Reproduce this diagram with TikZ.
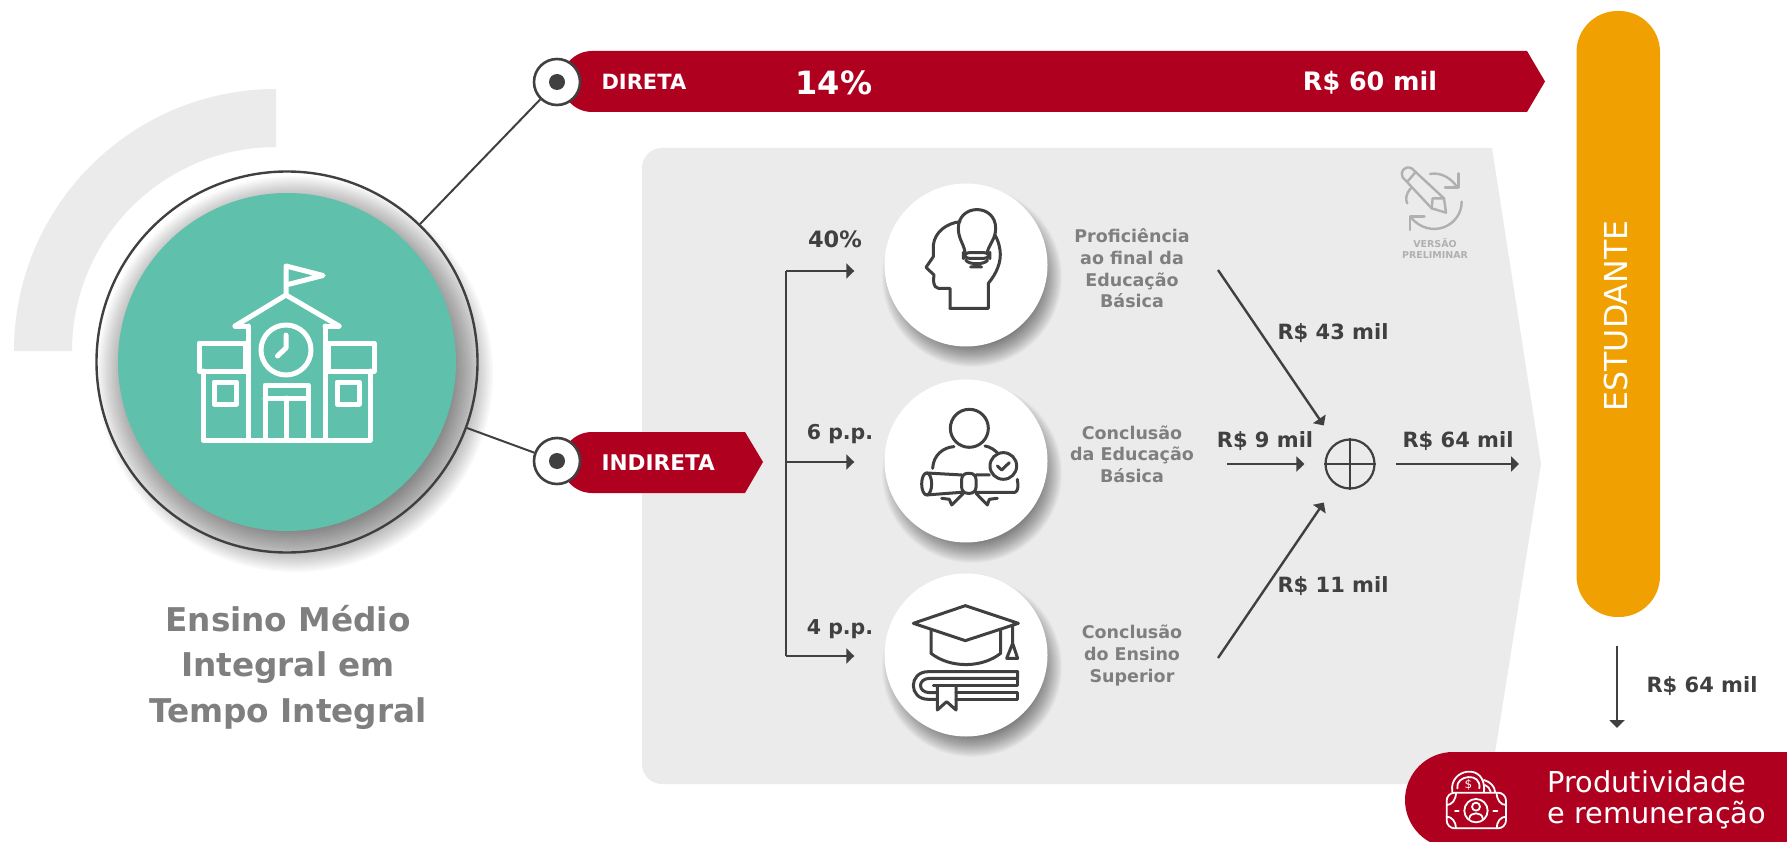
\documentclass[tikz,border=0pt]{standalone}
\usepackage{fontspec}
\setmainfont{DejaVu Sans}
\usetikzlibrary{positioning,calc,arrows.meta}
\definecolor{bandred}{HTML}{B00020}
\definecolor{pillorange}{HTML}{F0A000}
\definecolor{schoolteal}{HTML}{5FC0AC}
\definecolor{panelgray}{HTML}{EBEBEB}
\definecolor{inkdark}{HTML}{404040}
\definecolor{labelgray}{HTML}{7F7F7F}
\definecolor{draftgray}{HTML}{B0B0B0}
\tikzset{
	bandtext/.style={text=white,font=\bfseries\fontsize{21}{25}\selectfont},
	valuetext/.style={text=inkdark,font=\bfseries\fontsize{21}{25}\selectfont},
	sharetext/.style={text=inkdark,font=\bfseries\fontsize{20.5}{25}\selectfont},
	stagetext/.style={text=labelgray,align=center,font=\bfseries\fontsize{17.5}{21.6}\selectfont},
	flow/.style={draw=inkdark,line width=2.4pt,-{Stealth[length=8pt,width=15pt,inset=0pt]}},
	stalk/.style={draw=inkdark,line width=2.4pt},
	dotring/.style={circle,draw=inkdark,line width=2.6pt,fill=white,minimum size=46pt,inner sep=0pt},
	iconcircle/.style={circle,fill=white,minimum size=163pt,inner sep=0pt},
	iconline/.style={draw=inkdark,line width=3pt,line join=round,line cap=round},
	schoolline/.style={draw=white,line width=5pt,line join=round,line cap=round},
	moneyline/.style={draw=white,line width=1.8pt,line join=round,line cap=round},
	draftline/.style={draw=draftgray,line width=2.4pt,line join=round,line cap=round},
}
\newcommand{\softshadow}[5]{
	\foreach \i in {0,...,23}
		\fill[black,opacity=#5] (#1,#2) circle ({#3+\i*#4/23});
}
\begin{document}
\begin{tikzpicture}[x=1pt,y=-1pt]
		\useasboundingbox (0,0) rectangle (1787,842);
		\fill[white] (0,0) rectangle (1787,842);
		
		\fill[panelgray] (276,89) arc (270:180:262) -- (72,351) arc (180:270:204) -- cycle;
		\fill[panelgray] (1492,148) -- (1541,464) -- (1490,784) -- (662,784) arc (90:180:20) -- (642,168) arc (180:270:20) -- cycle;
		
		\softshadow{295}{374}{150}{48}{.028}
		\node[circle,draw=inkdark,line width=2.4pt,minimum size=381pt,inner sep=0pt] (schoolring) at (287,362) {};
		\node[circle,fill=schoolteal,minimum size=338pt,inner sep=0pt] (school) at (287,362) {};
		
		\fill[bandred] (592,51) -- (1527,51) -- (1545,81.5) -- (1527,112) -- (592,112) arc (90:270:30.5) -- cycle;
		\fill[bandred] (592,432) -- (745,432) -- (763,462) -- (745,493) -- (592,493) arc (90:270:30.5) -- cycle;
		\node[dotring] (diretadot) at (557,82) {};
		\node[dotring] (indiretadot) at (557,461) {};
		\fill[inkdark] (diretadot) circle (8);
		\fill[inkdark] (indiretadot) circle (8);
		\draw[stalk,line width=2pt] (schoolring) -- (diretadot);
		\draw[stalk,line width=2pt] (schoolring) -- (indiretadot);
		
		\node[bandtext,anchor=west] (direta) at (598,82) {DIRETA};
		\node[bandtext,anchor=west,font=\bfseries\fontsize{21.6}{25}\selectfont] (indireta) at (598,463) {INDIRETA};
		\node[bandtext,font=\bfseries\fontsize{32}{38}\selectfont] (shareval) at (834,83) {14\%};
		\node[bandtext,font=\bfseries\fontsize{25.4}{30}\selectfont] (directval) at (1370,83) {R\$ 60 mil};
		
		\node[text=labelgray,align=center,font=\bfseries\fontsize{32.7}{45.5}\selectfont] (title) at (288,667) {Ensino Médio\\Integral em\\Tempo Integral};
		
		\softshadow{972}{277}{68}{22}{.022}
		\softshadow{972}{473}{68}{22}{.022}
		\softshadow{972}{667}{68}{22}{.022}
		\node[iconcircle] (skill) at (966,265) {};
		\node[iconcircle] (school2) at (966,461) {};
		\node[iconcircle] (college) at (966,655) {};
		
		\coordinate (treetop) at (786,271);
		\coordinate (treemid) at (786,462);
		\coordinate (treebot) at (786,656);
		\draw[stalk] (treetop) -- (treebot);
		\draw[flow,shorten >=30pt] (treetop) -- (skill.west |- treetop);
		\draw[flow,shorten >=30pt] (treemid) -- (school2.west |- treemid);
		\draw[flow,shorten >=30pt] (treebot) -- (college.west |- treebot);
		\node[valuetext,font=\bfseries\fontsize{22.5}{25}\selectfont] (pct) at (835,239) {40\%};
		\node[sharetext] (pp6) at (840,434) {6 p.p.};
		\node[sharetext] (pp4) at (840,629) {4 p.p.};
		
		\node[stagetext] (skilltxt) at (1132,268.5) {Proficiência\\ao final da\\Educação\\Básica};
		\node[stagetext] (schooltxt) at (1132,454) {Conclusão\\da Educação\\Básica};
		\node[stagetext] (collegetxt) at (1132,655.5) {Conclusão\\do Ensino\\Superior};
		
		\node[circle,draw=inkdark,line width=2.2pt,minimum size=49pt,inner sep=0pt] (sum) at (1350,464) {};
		\draw[stalk] (sum.north) -- (sum.south);
		\draw[stalk] (sum.west) -- (sum.east);
		\coordinate (from1) at (1218,270);
		\coordinate (from2) at (1227,464);
		\coordinate (from3) at (1218,658);
		\coordinate (outend) at (1519,464);
		\draw[flow,shorten >=21pt] (from1) -- (sum);
		\draw[flow] (from2) -- ([xshift=-20pt]sum.west);
		\draw[flow,shorten >=21pt] (from3) -- (sum);
		\draw[flow] ([xshift=20pt]sum.east) -- (outend);
		\node[valuetext] (v43) at (1333,333) {R\$ 43 mil};
		\node[valuetext] (v9) at (1265,441) {R\$ 9 mil};
		\node[valuetext] (v11) at (1333,586) {R\$ 11 mil};
		\node[valuetext] (v64) at (1458,441) {R\$ 64 mil};
		
		\fill[pillorange,rounded corners=41pt] (1576.5,11) rectangle (1660,617);
		\node[rotate=90,text=white,font=\fontsize{31.6}{38}\selectfont] (student) at (1616,316) {ESTUDANTE};
		
		\coordinate (downtop) at (1617,646);
		\coordinate (downend) at (1617,728);
		\draw[flow] (downtop) -- (downend);
		\node[valuetext,anchor=west] (v64b) at (1643,686) {R\$ 64 mil};
		
		\fill[bandred,rounded corners=48pt] (1405,752) rectangle (1835,848);
		\node[text=white,anchor=west,align=left,font=\fontsize{28.8}{31}\selectfont] (salary) at (1544,800) {Produtividade\\e remuneração};
		
		% school
		\begin{scope}
			\draw[schoolline] (199,343) rectangle (245,371);
			\draw[schoolline] (328,343) rectangle (374,371);
			\draw[schoolline] (203,371) -- (203,440) -- (370,440) -- (370,371);
			\draw[schoolline] (248,326) -- (248,440) (325,326) -- (325,440);
			\draw[schoolline] (235,326) -- (248,326) (325,326) -- (339,326);
			\draw[schoolline] (235,326) -- (286,295) -- (339,326);
			\draw[schoolline] (286,295) -- (286,266) -- (323,275.5) -- (286,285);
			\draw[schoolline] (286,350) circle (25);
			\draw[schoolline] (286,335) -- (286,348) -- (277.5,356);
			\draw[schoolline] (265,440) -- (265,385) -- (308,385) -- (308,440);
			\draw[schoolline] (265,398) -- (308,398) (286,398) -- (286,440);
			\draw[schoolline] (214,382) rectangle (236.5,404);
			\draw[schoolline] (337,382) rectangle (359,404);
		\end{scope}
		
		% head with bulb
		\begin{scope}[shift={(850,160)},x=.3333pt,y=-.3333pt]
			\draw[iconline] (300,445) -- (415,445) -- (415,370) .. controls (440,340) and (455,305) .. (450,270) .. controls (447,250) and (443,240) .. (435,225);
			\draw[iconline] (300,445) -- (300,385) -- (265,385) .. controls (248,382) and (250,360) .. (252,345) -- (228,322) -- (250,290) -- (250,255) .. controls (255,215) and (290,190) .. (330,185);
			\draw[iconline] (345,275) .. controls (340,250) and (325,235) .. (325,205) .. controls (325,130) and (437,130) .. (437,205) .. controls (437,235) and (420,250) .. (412,275);
			\draw[iconline,rounded corners=6pt] (340,278) rectangle (420,295);
			\draw[iconline] (347,300) .. controls (355,315) and (405,315) .. (413,300) (362,321) -- (395,321);
		\end{scope}
		
		% graduate with diploma
		\begin{scope}[shift={(850,160)},x=.3333pt,y=-.3333pt]
			\draw[iconline] (358,805) circle (57);
			\draw[iconline] (248,925) .. controls (250,885) and (280,862) .. (312,860) (405,858) .. controls (420,860) and (435,870) .. (445,882);
			\draw[iconline] (230,972) ellipse (15 and 33);
			\draw[iconline] (230,939) -- (335,945) (230,1005) -- (335,997) (378,945) -- (418,945) (378,997) -- (495,997) .. controls (505,995) and (505,975) .. (502,958);
			\draw[iconline,rounded corners=6pt] (335,940) rectangle (378,1000);
			\draw[iconline] (340,1000) -- (305,1035) -- (298,1018) -- (275,1015);
			\draw[iconline] (378,1000) -- (412,1035) -- (418,1018) -- (442,1015);
			\draw[iconline,fill=white] (460,918) circle (40);
			\draw[iconline] (442,918) -- (455,930) -- (478,908);
		\end{scope}
		
		% cap and book
		\begin{scope}[shift={(850,550)},x=.3333pt,y=-.3333pt]
			\draw[iconline] (190,220) -- (346,167) -- (505,220) -- (346,272) -- cycle;
			\draw[iconline] (243,240) -- (243,310) .. controls (300,355) and (395,355) .. (452,310) -- (452,240);
			\draw[iconline] (488,225) -- (488,280) -- (470,325) -- (503,325) -- (488,280);
			\draw[iconline] (503,365) -- (235,365) .. controls (175,365) and (175,448) .. (235,448) -- (262,448);
			\draw[iconline] (503,365) -- (503,385) -- (240,385) .. controls (202,385) and (202,428) .. (240,428) -- (262,428);
			\draw[iconline] (250,406) -- (503,406) -- (503,385);
			\draw[iconline] (318,428) -- (503,428) -- (503,448) -- (318,448);
			\draw[iconline] (262,408) -- (262,480) -- (290,455) -- (318,480) -- (318,408);
		\end{scope}
		
		% draft stamp
		\begin{scope}[shift={(1380,140)},x=.3333pt,y=-.3333pt]
			\draw[draftline] (68,112) .. controls (58,95) and (75,75) .. (95,85) -- (192,175) -- (198,218) -- (155,205) -- cycle;
			\draw[draftline] (82,125) -- (108,95) (158,175) -- (192,175) (158,175) -- (155,205);
			\draw[draftline] (150,102) .. controls (180,95) and (215,115) .. (230,140);
			\draw[draftline] (235,100) -- (235,142) -- (195,142);
			\draw[draftline] (92,145) .. controls (78,160) and (75,180) .. (82,190);
			\draw[draftline] (245,185) .. controls (245,260) and (150,300) .. (92,232);
			\draw[draftline] (90,270) -- (90,230) -- (133,230);
		\end{scope}
		\node[text=draftgray,align=center,font=\bfseries\fontsize{9.5}{11}\selectfont] (draft) at (1435,249) {VERSÃO\\PRELIMINAR};
		
		% money
		\begin{scope}[shift={(1380,640)},x=.3333pt,y=-.3333pt]
			\draw[moneyline,rounded corners=8pt] (200,458) rectangle (378,565);
			\draw[moneyline] (288,512) circle (35);
			\draw[moneyline] (288,500) circle (12);
			\draw[moneyline] (268,535) .. controls (270,515) and (306,515) .. (308,535);
			\draw[moneyline] (225,512) -- (236,512) (340,512) -- (352,512);
			\draw[moneyline] (200,495) .. controls (215,495) and (228,480) .. (228,458) (378,495) .. controls (362,495) and (350,480) .. (350,458);
			\draw[moneyline] (200,530) .. controls (215,530) and (228,545) .. (228,565) (378,530) .. controls (362,530) and (350,545) .. (350,565);
			\draw[moneyline] (217,455) .. controls (205,385) and (320,365) .. (312,455);
			\draw[moneyline] (232,445) .. controls (225,405) and (305,395) .. (298,445);
			\draw[moneyline] (312,420) .. controls (330,425) and (345,440) .. (345,455) (315,435) .. controls (322,438) and (330,445) .. (332,455);
			\node[text=white,font=\fontsize{12}{12}\selectfont] (dollar) at (265,435) {\$};
		\end{scope}
	\end{tikzpicture}
\end{document}
